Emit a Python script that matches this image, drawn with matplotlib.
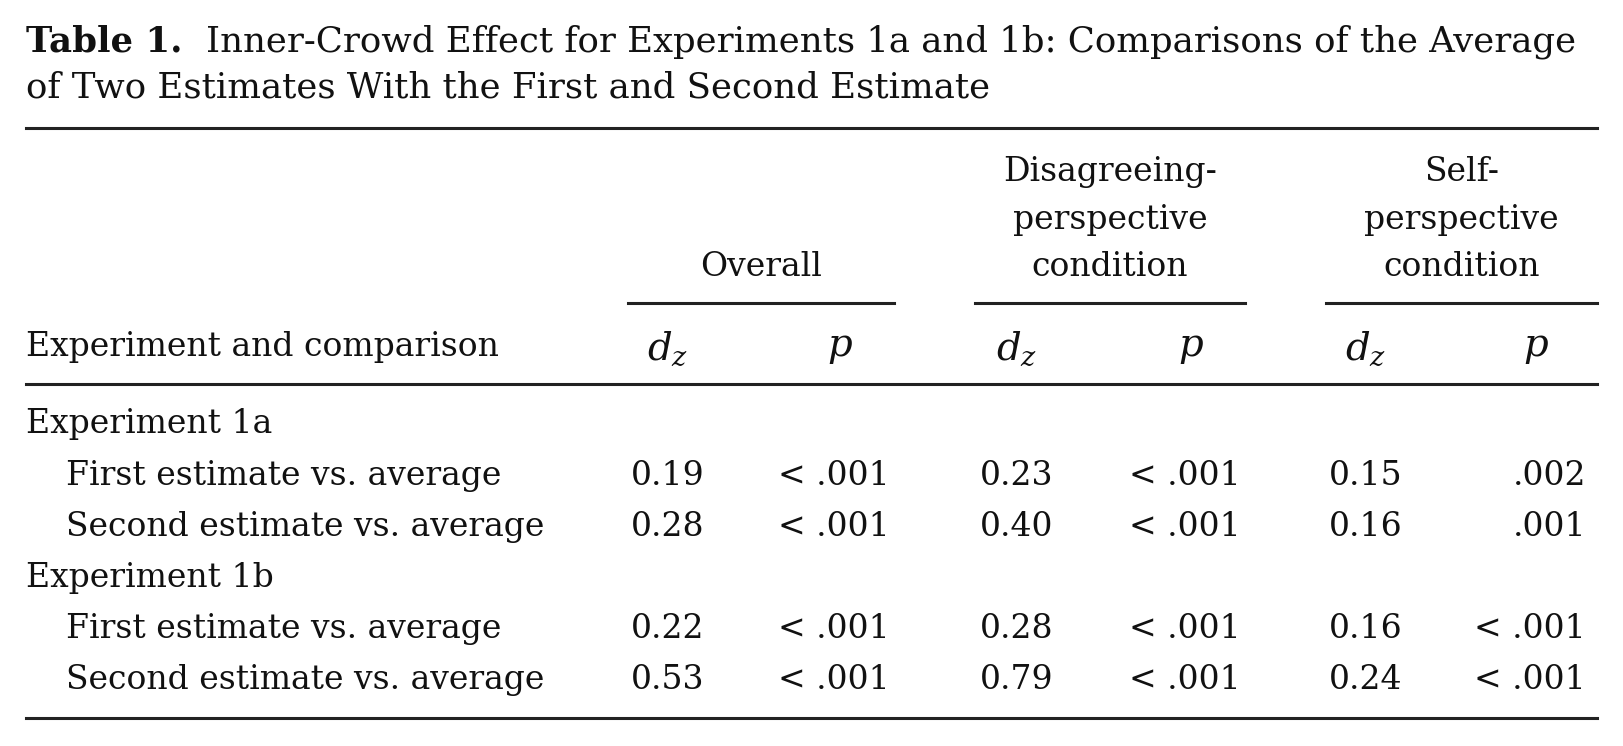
import matplotlib
matplotlib.use("Agg")
import matplotlib.pyplot as plt

# table contents
groups = ["Overall", "Disagreeing-\nperspective\ncondition", "Self-\nperspective\ncondition"]
experiments = ["Experiment 1a", "Experiment 1b"]
comparisons = ["First estimate vs. average", "Second estimate vs. average"]
dz_1a = [["0.19", "0.23", "0.15"], ["0.28", "0.40", "0.16"]]
p_1a = [["< .001", "< .001", ".002"], ["< .001", "< .001", ".001"]]
dz_1b = [["0.22", "0.28", "0.16"], ["0.53", "0.79", "0.24"]]
p_1b = [["< .001", "< .001", "< .001"], ["< .001", "< .001", "< .001"]]

plt.rcParams["font.family"] = ["DejaVu Serif"]
plt.rcParams["mathtext.fontset"] = "dejavuserif"
FS = 23.8
TFS = 25.6
INK = "#111111"

fig = plt.figure(figsize=(16.23, 7.46), dpi=100)
ax = fig.add_axes([0, 0, 1, 1])
ax.set_xlim(0, 1623)
ax.set_ylim(746, 0)
ax.axis("off")

# title
t1 = ax.text(26, 42, "Table 1.", fontsize=TFS, fontweight="bold", va="center", color=INK)
fig.canvas.draw()
bb = t1.get_window_extent()
ax.text(26 + bb.width + 24, 42,
        "Inner-Crowd Effect for Experiments 1a and 1b: Comparisons of the Average",
        fontsize=TFS, va="center", color=INK)
ax.text(26, 88, "of Two Estimates With the First and Second Estimate",
        fontsize=TFS, va="center", color=INK)

lw = 2.2
ax.plot([26, 1597], [128, 128], color="#222222", lw=lw)
ax.plot([26, 1597], [384, 384], color="#222222", lw=lw)
ax.plot([26, 1597], [718, 718], color="#222222", lw=lw)

spans = [(628, 894), (975, 1245), (1326, 1597)]
dz_x = [631, 980, 1329]
p_x = [890, 1241, 1586]
for g, (a, b) in zip(groups, spans):
    ax.plot([a, b], [303, 303], color="#222222", lw=lw)
    ax.text((a + b) / 2, 276, g, fontsize=FS, ha="center", va="baseline",
            linespacing=1.62, multialignment="center", color=INK)

ax.text(26, 347, "Experiment and comparison", fontsize=FS, va="center", color=INK)
for i in range(3):
    ax.text(dz_x[i] + 37, 349, r"$d_z$", fontsize=FS + 4, va="center", ha="center", color=INK)
    ax.text(p_x[i] - 50, 347, r"$p$", fontsize=FS + 4, va="center", ha="center", color=INK)

rows_y = [[476, 527], [629, 680]]
exp_y = [424, 578]
for e, ey, ry, dz, pv in zip(experiments, exp_y, rows_y, [dz_1a, dz_1b], [p_1a, p_1b]):
    ax.text(26, ey, e, fontsize=FS, va="center", color=INK)
    for j, c in enumerate(comparisons):
        ax.text(66, ry[j], c, fontsize=FS, va="center", color=INK)
        for i in range(3):
            ax.text(dz_x[i], ry[j], dz[j][i], fontsize=FS, va="center", color=INK)
            ax.text(p_x[i], ry[j], pv[j][i], fontsize=FS, va="center", ha="right", color=INK)

fig.savefig("out.png", dpi=100, facecolor="white")
